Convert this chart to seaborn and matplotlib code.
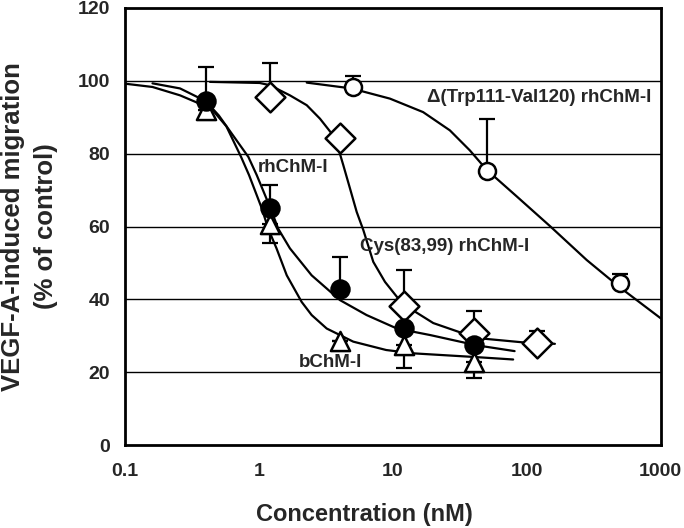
import numpy as np
import pandas as pd

import matplotlib
matplotlib.use("Agg")
import matplotlib.pyplot as plt
import seaborn as sns

# -----------------------
# Data
# -----------------------
# rhChM-I (filled circles)
conc_rh = [0.4, 1.2, 4, 12, 40]
resp_rh = [94.4, 65.0, 42.8, 32.1, 27.4]
err_rh = [9.3, 6.3, 8.8, 0.0, 0.0]

# bChM-I (open triangles), error bars drawn downwards
conc_b = [0.4, 1.2, 4, 12, 40]
resp_b = [92.0, 60.6, 28.5, 27.4, 22.8]
err_b = [0.0, 5.2, 0.0, 6.3, 4.4]

# Cys(83,99) rhChM-I (open diamonds)
conc_cys = [1.2, 4, 12, 40, 120]
resp_cys = [95.5, 84.2, 38.1, 30.7, 28.0]
err_cys = [9.5, 1.0, 9.9, 6.1, 3.3]

# Δ(Trp111-Val120) rhChM-I (open circles)
conc_del = [5, 50, 500]
resp_del = [98.2, 75.2, 44.4]
err_del = [3.0, 14.2, 2.6]

# fitted curves
fit_rh_x = [0.16, 0.257, 0.4, 0.5, 0.832, 0.961, 1.22, 1.39, 1.70, 2.47, 4.02, 6.35, 10.7, 19, 42, 81]
fit_rh_y = [99.3, 97.9, 94.4, 90.5, 79.1, 74.1, 64.9, 59.4, 54.0, 46.6, 39.8, 35.7, 32.0, 30.2, 27.4, 25.8]

fit_b_x = [0.1, 0.16, 0.257, 0.4, 0.444, 0.57, 0.734, 0.842, 1.05, 1.17, 1.35, 1.61, 2.08, 2.47, 3.2, 5.05, 8.9, 14, 40, 79]
fit_b_y = [99.2, 98.3, 96.0, 93.0, 92.2, 87.5, 79.1, 74.1, 64.9, 59.4, 54.0, 46.6, 39.3, 35.7, 32.0, 28.4, 26.1, 25.2, 24.2, 23.5]

fit_cys_x = [0.43, 1.01, 1.2, 1.70, 2.27, 2.85, 3.49, 3.91, 4.26, 4.78, 5.36, 6.01, 7.13, 8.72, 10.7, 13.4, 20, 42, 100, 162]
fit_cys_y = [99.7, 99.4, 98.8, 96.0, 93.3, 89.6, 85.5, 81.4, 76.8, 70.4, 64.0, 59.0, 50.3, 44.8, 40.7, 37.5, 33.5, 29.4, 28.1, 27.8]

fit_del_x = [2.27, 4.9, 9.5, 16.8, 26.6, 37.5, 50, 83.8, 150, 280, 495, 1000]
fit_del_y = [99.5, 97.9, 95.1, 91.4, 86.4, 80.9, 75.6, 68.3, 60.0, 50.8, 43.3, 34.8]

x_ticks = [0.1, 1, 10, 100, 1000]
x_ticklabels = ["0.1", "1", "10", "100", "1000"]
y_ticks = [0, 20, 40, 60, 80, 100, 120]

# -----------------------
# Style
# -----------------------
sns.set_style("white")
plt.rcParams["font.family"] = ["Liberation Sans", "DejaVu Sans"]
plt.rcParams["font.weight"] = "bold"

fig = plt.figure(figsize=(6.84, 5.28), dpi=100)
ax = fig.add_axes([0.183, 0.157, 0.783, 0.828])

# gridlines
for yv in y_ticks[1:-1]:
    ax.axhline(yv, color="black", lw=1.0, zorder=0)

# curves
curves = [(fit_rh_x, fit_rh_y), (fit_b_x, fit_b_y), (fit_cys_x, fit_cys_y), (fit_del_x, fit_del_y)]
for cx, cy in curves:
    sns.lineplot(x=cx, y=cy, ax=ax, color="black", lw=1.6, sort=False, zorder=2)

# error bars (one-sided)
eb_kw = dict(fmt="none", ecolor="black", elinewidth=1.6, capsize=6, capthick=1.6, zorder=3)
ax.errorbar(conc_rh, resp_rh, yerr=[np.zeros(len(err_rh)), err_rh], **eb_kw)
ax.errorbar(conc_b, resp_b, yerr=[err_b, np.zeros(len(err_b))], **eb_kw)
ax.errorbar(conc_cys, resp_cys, yerr=[np.zeros(len(err_cys)), err_cys], **eb_kw)
ax.errorbar(conc_del, resp_del, yerr=[np.zeros(len(err_del)), err_del], **eb_kw)

# markers
sns.scatterplot(x=conc_del, y=resp_del, ax=ax, marker="o", s=150, facecolor="white",
                edgecolor="black", linewidth=1.8, zorder=4)
sns.scatterplot(x=conc_cys, y=resp_cys, ax=ax, marker="D", s=230, facecolor="white",
                edgecolor="black", linewidth=1.8, zorder=4)
sns.scatterplot(x=conc_b, y=resp_b, ax=ax, marker="^", s=190, facecolor="white",
                edgecolor="black", linewidth=1.8, zorder=5)
sns.scatterplot(x=conc_rh, y=resp_rh, ax=ax, marker="o", s=175, facecolor="black",
                edgecolor="black", linewidth=1.5, zorder=6)

# labels on the curves
lab_kw = dict(fontsize=13.5, fontweight="bold", ha="left", va="center")
ax.text(17.9, 95.5, "\u0394(Trp111-Val120) rhChM-I", **lab_kw)
ax.text(0.98, 76.3, "rhChM-I", **lab_kw)
ax.text(5.67, 54.6, "Cys(83,99) rhChM-I", **lab_kw)
ax.text(1.99, 22.8, "bChM-I", **lab_kw)

# axes
ax.set_xscale("log")
ax.set_xlim(0.1, 1000)
ax.set_ylim(0, 120)
ax.set_xticks(x_ticks)
ax.set_xticklabels(x_ticklabels)
ax.set_yticks(y_ticks)
ax.minorticks_off()
ax.tick_params(axis="x", direction="in", length=8, width=1.5, labelsize=14, pad=13)
ax.tick_params(axis="y", direction="out", length=7, width=1.5, labelsize=14, pad=4)
for lab in ax.get_xticklabels() + ax.get_yticklabels():
    lab.set_fontweight("bold")
for sp in ax.spines.values():
    sp.set_visible(True)
    sp.set_color("black")
    sp.set_linewidth(2.0)

ax.set_xlabel("Concentration (nM)", fontsize=17, fontweight="bold")
ax.xaxis.set_label_coords(0.447, -0.133)
ax.set_ylabel("VEGF-A-induced migration\n(% of control)", fontsize=18.5,
              fontweight="bold", linespacing=1.5)
ax.yaxis.set_label_coords(-0.125, 0.5)

fig.savefig("out.png", dpi=100)
